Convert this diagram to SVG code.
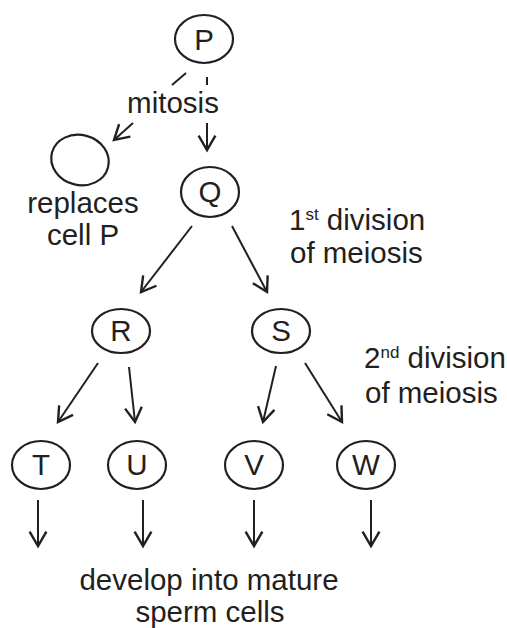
<svg xmlns="http://www.w3.org/2000/svg" width="507" height="628" viewBox="0 0 507 628">
<style>
.c{fill:none;stroke:#231f20;stroke-width:2.2}
.t{font-family:"Liberation Sans",Arial,sans-serif;font-size:29.5px;fill:#231f20}
.n{text-anchor:middle}
.a{fill:none;stroke:#231f20;stroke-width:2;marker-end:url(#ah)}
.l{fill:none;stroke:#231f20;stroke-width:2}
.sup{font-size:17px}
</style>
<defs>
<marker id="ah" markerUnits="userSpaceOnUse" markerWidth="24" markerHeight="24" refX="0" refY="0" viewBox="-14 -10 16 20" orient="auto">
<path d="M-12,-7 L0,0 L-12,7" fill="none" stroke="#231f20" stroke-width="2"/>
</marker>
</defs>
<rect width="507" height="628" fill="#fff"/>
<g id="connectors">
<line class="l" x1="186" y1="73" x2="172" y2="85"/>
<line class="l" x1="207" y1="77" x2="207" y2="85"/>
<line class="a" x1="133" y1="123" x2="114" y2="140"/>
<line class="a" x1="207" y1="123" x2="207" y2="150"/>
<line class="a" x1="192" y1="226" x2="141" y2="292"/>
<line class="a" x1="232" y1="226" x2="267" y2="292"/>
<line class="a" x1="98" y1="363" x2="58" y2="422"/>
<line class="a" x1="129" y1="367" x2="135" y2="422"/>
<line class="a" x1="276" y1="366" x2="263" y2="422"/>
<line class="a" x1="305" y1="363" x2="342" y2="422"/>
<line class="a" x1="38" y1="500" x2="38" y2="546"/>
<line class="a" x1="143" y1="500" x2="143" y2="546"/>
<line class="a" x1="254" y1="500" x2="254" y2="546"/>
<line class="a" x1="371" y1="500" x2="371" y2="546"/>
</g>
<g id="P"><ellipse class="c" cx="204" cy="39" rx="29" ry="24"/><text class="t n" x="204" y="50">P</text></g>
<g id="mitosis"><text class="t n" x="173" y="113">mitosis</text></g>
<g id="daughter"><ellipse class="c" cx="80" cy="160" rx="29" ry="25" transform="rotate(15 80 160)"/></g>
<g id="replaces"><text class="t n" x="83" y="213">replaces</text><text class="t n" x="83" y="245">cell P</text></g>
<g id="Q"><ellipse class="c" cx="210" cy="192" rx="29" ry="25"/><text class="t n" x="210" y="202">Q</text></g>
<g id="first"><text class="t" x="289" y="230">1<tspan class="sup" dy="-10">st</tspan><tspan dy="10"> division</tspan></text><text class="t" x="290" y="263">of meiosis</text></g>
<g id="R"><ellipse class="c" cx="121" cy="331" rx="29" ry="22"/><text class="t n" x="121" y="341">R</text></g>
<g id="S"><ellipse class="c" cx="281" cy="331" rx="29" ry="22"/><text class="t n" x="281" y="341">S</text></g>
<g id="second"><text class="t" x="364" y="368">2<tspan class="sup" dy="-10">nd</tspan><tspan dy="10"> division</tspan></text><text class="t" x="365" y="403">of meiosis</text></g>
<g id="T"><ellipse class="c" cx="41" cy="465" rx="29" ry="24"/><text class="t n" x="41" y="475">T</text></g>
<g id="U"><ellipse class="c" cx="137" cy="465" rx="29" ry="24"/><text class="t n" x="137" y="475">U</text></g>
<g id="V"><ellipse class="c" cx="254" cy="465" rx="29" ry="24"/><text class="t n" x="254" y="475">V</text></g>
<g id="W"><ellipse class="c" cx="366" cy="465" rx="29" ry="24"/><text class="t n" x="366" y="475">W</text></g>
<g id="develop"><text class="t n" x="209" y="590">develop into mature</text><text class="t n" x="210" y="622">sperm cells</text></g>
</svg>
